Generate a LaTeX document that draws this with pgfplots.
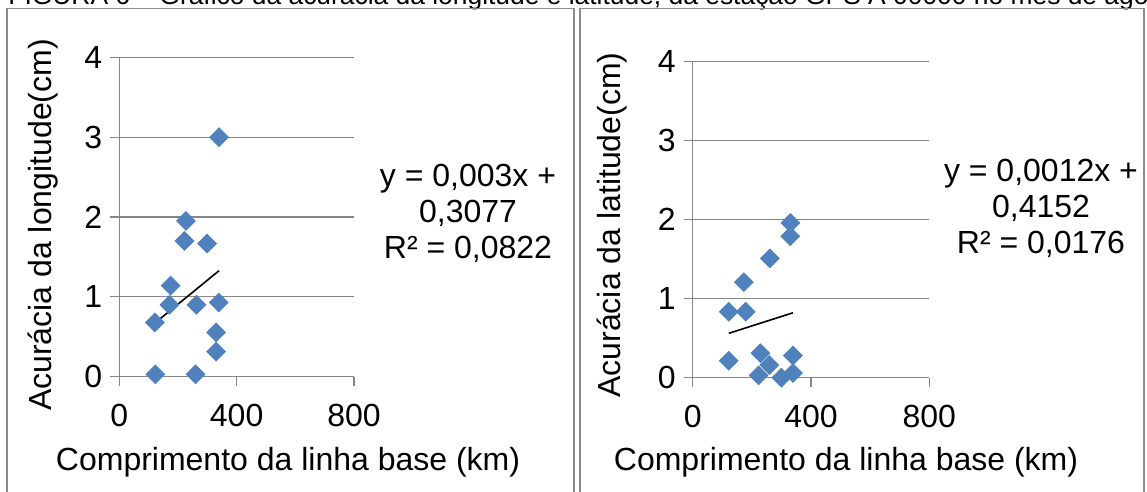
\documentclass[border=0pt]{standalone}
\usepackage{fontspec}
\setmainfont{Liberation Sans}
\usepackage{pgfplots}
\pgfplotsset{compat=1.18}

\definecolor{mk}{HTML}{4F81BD}
\definecolor{gridc}{HTML}{868686}
\definecolor{boxc}{HTML}{8C8C8C}

% Longitude accuracy vs. baseline length
\pgfplotstableread{
x y
340 3.00
227 1.95
222 1.70
299 1.667
175 1.14
171 0.90
263 0.90
339 0.93
121 0.68
330 0.556
330 0.313
123 0.03
260 0.03
}\lon

% Latitude accuracy vs. baseline length
\pgfplotstableread{
x y
330 1.96
330 1.79
261 1.51
173 1.21
122 0.835
179 0.835
122 0.215
229 0.31
259 0.16
223 0.03
300 0.0
339 0.28
339 0.06
}\lat

\pgfplotsset{excel/.style={
  scale only axis,
  xmin=0, xmax=800, ymin=0, ymax=4,
  xtick={0,400,800}, ytick={0,1,2,3,4},
  axis x line=bottom, axis y line=left,
  axis line style={gridc, line width=0.6pt, -},
  ymajorgrids, major grid style={gridc, line width=0.6pt},
  xtick align=outside, ytick align=outside,
  major tick length=4.5pt,
  tick style={gridc, line width=0.6pt},
  every tick label/.append style={font=\fontsize{16}{19}\selectfont, text=black},
  /pgf/number format/assume math mode=true,
  xticklabel style={yshift=-5.5pt},
  yticklabel style={xshift=-0.5pt},
  label style={font=\fontsize{16}{19}\selectfont},
  clip=false,
}}

\begin{document}
\begin{tikzpicture}
\useasboundingbox (0,0) rectangle (573.5pt,-246pt);
\clip (0,0) rectangle (573.5pt,-246pt);

% caption line running off the top edge
\node[anchor=base west, inner sep=0pt, font=\fontsize{13.2}{16}\selectfont]
  at (4pt,-2.5pt) {FIGURA 6 – Gráfico da acurácia da longitude e latitude, da estação GPS A 00000 no mês de agosto};

% chart frames
\draw[boxc, line width=0.6pt] (3.5pt,-300pt) -- (3.5pt,-4.25pt) -- (287pt,-4.25pt) -- (287pt,-300pt);
\draw[boxc, line width=0.6pt] (290pt,-300pt) -- (290pt,-4.25pt) -- (572pt,-4.25pt) -- (572pt,-300pt);

\begin{axis}[excel,
  at={(59.65pt,-188.35pt)}, anchor=south west,
  width=117.35pt, height=159.7pt,
  xlabel={Comprimento da linha base (km)},
  ylabel={Acurácia da longitude(cm)},
  xlabel style={at={(axis description cs:0.719,-0.267)}, anchor=center},
  ylabel style={at={(axis description cs:-0.325,0.475)}, anchor=center},
]
\addplot[only marks, mark=square*, mark size=3.3pt,
  mark options={rotate=45, fill=mk, draw=mk}] table[x=x,y=y] {\lon};
% linear trend: y = 0,003x + 0,3077
\addplot[black, line width=0.8pt] coordinates {(121,0.6707) (340,1.3277)};
\end{axis}

\begin{axis}[excel,
  at={(346.35pt,-188.85pt)}, anchor=south west,
  width=118.3pt, height=158pt,
  xlabel={Comprimento da linha base (km)},
  ylabel={Acurácia da latitude(cm)},
  xlabel style={at={(axis description cs:0.648,-0.267)}, anchor=center},
  ylabel style={at={(axis description cs:-0.341,0.483)}, anchor=center},
]
\addplot[only marks, mark=square*, mark size=3.3pt,
  mark options={rotate=45, fill=mk, draw=mk}] table[x=x,y=y] {\lat};
% linear trend: y = 0,0012x + 0,4152
\addplot[black, line width=0.8pt] coordinates {(122,0.5616) (339,0.8220)};
\end{axis}

% trend line equations
\node[align=center, font=\fontsize{16}{18}\selectfont]
  at (234pt,-106.5pt) {y = 0,003x +\\0,3077\\R² = 0,0822};
\node[align=center, font=\fontsize{16}{18}\selectfont]
  at (520.5pt,-104.25pt) {y = 0,0012x +\\0,4152\\R² = 0,0176};
\end{tikzpicture}
\end{document}
